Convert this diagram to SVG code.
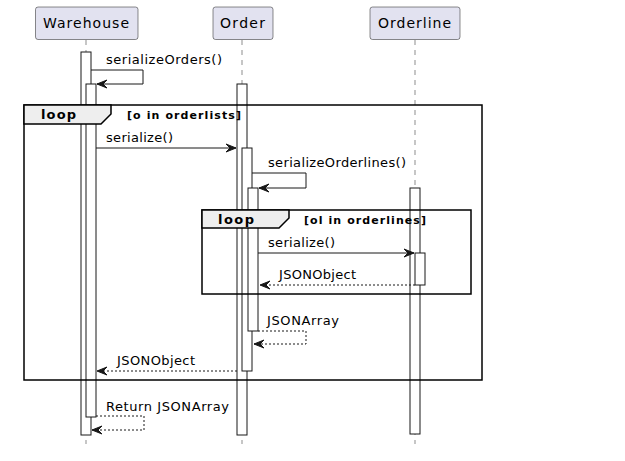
<svg xmlns="http://www.w3.org/2000/svg" width="625" height="461" viewBox="0 0 625 461">
<style>
.bg{fill:#FFFFFF}
.part{fill:#E2E2F0;stroke:#181818;stroke-width:0.5}
.pt{font-family:"DejaVu Sans",sans-serif;font-size:14px;fill:#000}
.life{stroke:#181818;stroke-width:0.5;stroke-dasharray:5,5;fill:none}
.bar{fill:#FFFFFF;stroke:#181818;stroke-width:1}
.frame{fill:none;stroke:#000;stroke-width:1.5}
.tab{fill:#EEEEEE;stroke:#000;stroke-width:1.5}
.lt{font-family:"DejaVu Sans",sans-serif;font-size:13px;font-weight:bold;fill:#000}
.gt{font-family:"DejaVu Sans",sans-serif;font-size:11px;font-weight:bold;fill:#000}
.msg{stroke:#181818;stroke-width:1;fill:none}
.ret{stroke:#181818;stroke-width:1;fill:none;stroke-dasharray:2,2}
.ah{fill:#181818;stroke:#181818;stroke-width:1}
.mt{font-family:"DejaVu Sans",sans-serif;font-size:13px;fill:#000}
</style>
<rect class="bg" x="0" y="0" width="625" height="461"/>
<g id="lifelines">
<line class="life" x1="86" y1="40" x2="86" y2="444"/>
<line class="life" x1="242" y1="40" x2="242" y2="444"/>
<line class="life" x1="415" y1="40" x2="415" y2="444"/>
</g>
<g id="Warehouse">
<rect class="part" x="35.5" y="7" width="102.5" height="32.5" rx="2.5"/>
<text class="pt" x="43" y="28" textLength="86" lengthAdjust="spacing">Warehouse</text>
<rect class="bar" x="81" y="52" width="10" height="383"/>
<rect class="bar" x="86" y="84" width="10" height="333"/>
</g>
<g id="Order">
<rect class="part" x="213" y="7" width="60" height="32.5" rx="2.5"/>
<text class="pt" x="220" y="28" textLength="45" lengthAdjust="spacing">Order</text>
<rect class="bar" x="237" y="84" width="10" height="351"/>
<rect class="bar" x="242" y="148" width="10" height="223"/>
<rect class="bar" x="248" y="188" width="10" height="143"/>
</g>
<g id="Orderline">
<rect class="part" x="370" y="7" width="90" height="32.5" rx="2.5"/>
<text class="pt" x="378" y="28" textLength="73" lengthAdjust="spacing">Orderline</text>
<rect class="bar" x="410" y="188" width="10" height="246"/>
<rect class="bar" x="415" y="253" width="10" height="32"/>
</g>
<g id="loop1">
<rect class="frame" x="24" y="105" width="458" height="275"/>
<polygon class="tab" points="24,105 111,105 111,114 101,124 24,124"/>
<text class="lt" x="41" y="119" textLength="35" lengthAdjust="spacing">loop</text>
<text class="gt" x="127" y="119" textLength="114" lengthAdjust="spacing">[o in orderlists]</text>
</g>
<g id="loop2">
<rect class="frame" x="202" y="210" width="269" height="84"/>
<polygon class="tab" points="202,210 289,210 289,218 279,228 202,228"/>
<text class="lt" x="218" y="224" textLength="36" lengthAdjust="spacing">loop</text>
<text class="gt" x="304" y="224" textLength="122" lengthAdjust="spacing">[ol in orderlines]</text>
</g>
<g id="connectors">
<polyline class="msg" points="91,70 143,70 143,84 97,84"/>
<polygon class="ah" points="107,80 97,84 107,88 103,84"/>
<text class="mt" x="106" y="64" textLength="116" lengthAdjust="spacing">serializeOrders()</text>

<line class="msg" x1="96" y1="148" x2="236" y2="148"/>
<polygon class="ah" points="226,144 236,148 226,152 230,148"/>
<text class="mt" x="106" y="142" textLength="67" lengthAdjust="spacing">serialize()</text>

<polyline class="msg" points="252,173 306,173 306,188 259,188"/>
<polygon class="ah" points="269,184 259,188 269,192 265,188"/>
<text class="mt" x="268" y="167" textLength="138" lengthAdjust="spacing">serializeOrderlines()</text>

<line class="msg" x1="258" y1="253" x2="414" y2="253"/>
<polygon class="ah" points="404,249 414,253 404,257 408,253"/>
<text class="mt" x="268" y="247" textLength="67" lengthAdjust="spacing">serialize()</text>

<line class="ret" x1="415" y1="285" x2="260" y2="285"/>
<polygon class="ah" points="270,281 260,285 270,289 266,285"/>
<text class="mt" x="279" y="279" textLength="77" lengthAdjust="spacing">JSONObject</text>

<polyline class="ret" points="258,331 306,331 306,344 254,344"/>
<polygon class="ah" points="264,340 254,344 264,348 260,344"/>
<text class="mt" x="267" y="325" textLength="72" lengthAdjust="spacing">JSONArray</text>

<line class="ret" x1="237" y1="371" x2="97" y2="371"/>
<polygon class="ah" points="107,367 97,371 107,375 103,371"/>
<text class="mt" x="117" y="365" textLength="78" lengthAdjust="spacing">JSONObject</text>

<polyline class="ret" points="96,416 144,416 144,430 92,430"/>
<polygon class="ah" points="102,426 92,430 102,434 98,430"/>
<text class="mt" x="106" y="411" textLength="123" lengthAdjust="spacing">Return JSONArray</text>
</g>
</svg>
